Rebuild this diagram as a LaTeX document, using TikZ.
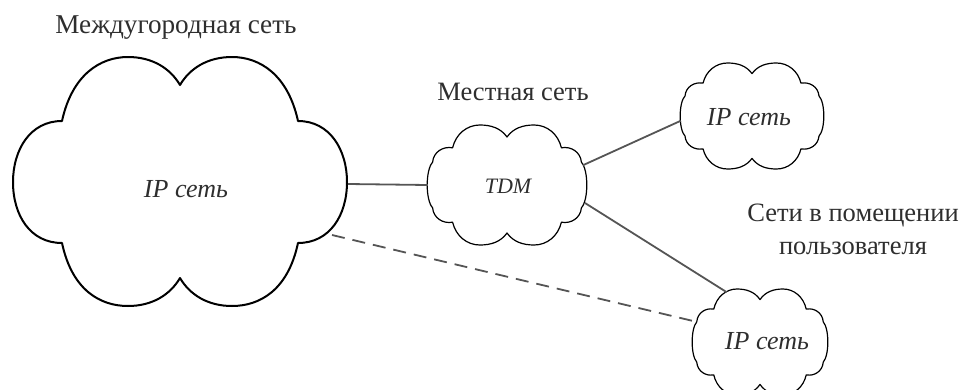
\documentclass[tikz,border=0pt]{standalone}
\usepackage{fontspec}
\setmainfont{Liberation Serif}
\definecolor{txt}{HTML}{2E2E2E}
\definecolor{wire}{HTML}{555555}
\tikzset{
  bigoutline/.style={draw=black, line width=2pt, line join=round},
  smalloutline/.style={draw=black, line width=1.2pt, line join=round},
  cloudpath/.style={insert path={(0,-0.8)
    .. controls (0.08,-0.95) and (0.2,-1) .. (0.34,-1)
    .. controls (0.5,-1) and (0.64,-0.85) .. (0.68,-0.62)
    .. controls (0.8,-0.65) and (0.92,-0.55) .. (0.93,-0.38)
    .. controls (1.02,-0.25) and (1.02,0.25) .. (0.93,0.38)
    .. controls (0.92,0.55) and (0.8,0.65) .. (0.68,0.62)
    .. controls (0.64,0.85) and (0.5,1) .. (0.34,1)
    .. controls (0.2,1) and (0.08,0.95) .. (0,0.8)
    .. controls (-0.08,0.95) and (-0.2,1) .. (-0.34,1)
    .. controls (-0.5,1) and (-0.64,0.85) .. (-0.68,0.62)
    .. controls (-0.8,0.65) and (-0.92,0.55) .. (-0.93,0.38)
    .. controls (-1.02,0.25) and (-1.02,-0.25) .. (-0.93,-0.38)
    .. controls (-0.92,-0.55) and (-0.8,-0.65) .. (-0.68,-0.62)
    .. controls (-0.64,-0.85) and (-0.5,-1) .. (-0.34,-1)
    .. controls (-0.2,-1) and (-0.08,-0.95) .. (0,-0.8) -- cycle}},
  cloudtext/.style={text=txt, font=\fontsize{26}{28}\selectfont\itshape, inner sep=0pt},
  lbl/.style={text=txt, font=\fontsize{26.5}{33}\selectfont, align=center, inner sep=0pt},
  link/.style={draw=wire, line width=1.8pt},
  dlink/.style={link, dash pattern=on 13pt off 8pt}
}
\begin{document}
\begin{tikzpicture}[x=1pt,y=-1pt]
\useasboundingbox (0,0) rectangle (962,389);
% large long-distance cloud
\draw[bigoutline] (62,121)
  .. controls (72,75) and (100,57) .. (128,57)
  .. controls (152,57) and (170,68) .. (180,85)
  .. controls (190,68) and (208,57) .. (232,57)
  .. controls (260,57) and (288,75) .. (298,121)
  .. controls (330,121) and (347,150) .. (347,182)
  .. controls (347,215) and (330,243) .. (298,243)
  .. controls (288,290) and (260,306) .. (232,306)
  .. controls (208,306) and (190,295) .. (180,278)
  .. controls (170,295) and (152,306) .. (128,306)
  .. controls (100,306) and (72,290) .. (62,243)
  .. controls (30,243) and (13,215) .. (13,182)
  .. controls (13,150) and (30,121) .. (62,121) -- cycle;
\node[cloudtext] (ipbig) at (186,189) {IP сеть};
\coordinate (bigE) at (348,184);
\coordinate (bigSE) at (332,235);
% TDM cloud
\begin{scope}[shift={(507,185)}, xscale=80, yscale=60]
  \draw[smalloutline, cloudpath];
  \coordinate (tdmW) at (-0.99,0);
  \coordinate (tdmNE) at (0.95,-0.33);
  \coordinate (tdmSE) at (0.975,0.3);
\end{scope}
\node[cloudtext, font=\fontsize{22}{24}\selectfont\itshape] (tdm) at (508,186) {TDM};
% upper IP cloud
\begin{scope}[shift={(752,116)}, xscale=72, yscale=53]
  \draw[smalloutline, cloudpath];
  \coordinate (iptopW) at (-0.99,0.09);
\end{scope}
\node[cloudtext] (iptop) at (749,117) {IP сеть};
% lower IP cloud
\begin{scope}[shift={(760,342)}, xscale=68, yscale=53]
  \draw[smalloutline, cloudpath];
  \coordinate (ipbotNW) at (-0.49,-0.94);
  \coordinate (ipbotW) at (-0.93,-0.38);
\end{scope}
\node[cloudtext] (ipbot) at (767,341) {IP сеть};
% labels
\node[lbl, font=\fontsize{27.2}{33}\selectfont] (lmg) at (176,28) {Междугородная сеть};
\node[lbl] (lloc) at (513,92) {Местная сеть};
\node[lbl] (lusr) at (853,229) {Сети в помещении\\пользователя};
% connectors
\draw[link] (bigE) -- (tdmW);
\draw[link] (tdmNE) -- (iptopW);
\draw[link] (tdmSE) -- (ipbotNW);
\draw[dlink] (bigSE) -- (ipbotW);
\end{tikzpicture}
\end{document}
